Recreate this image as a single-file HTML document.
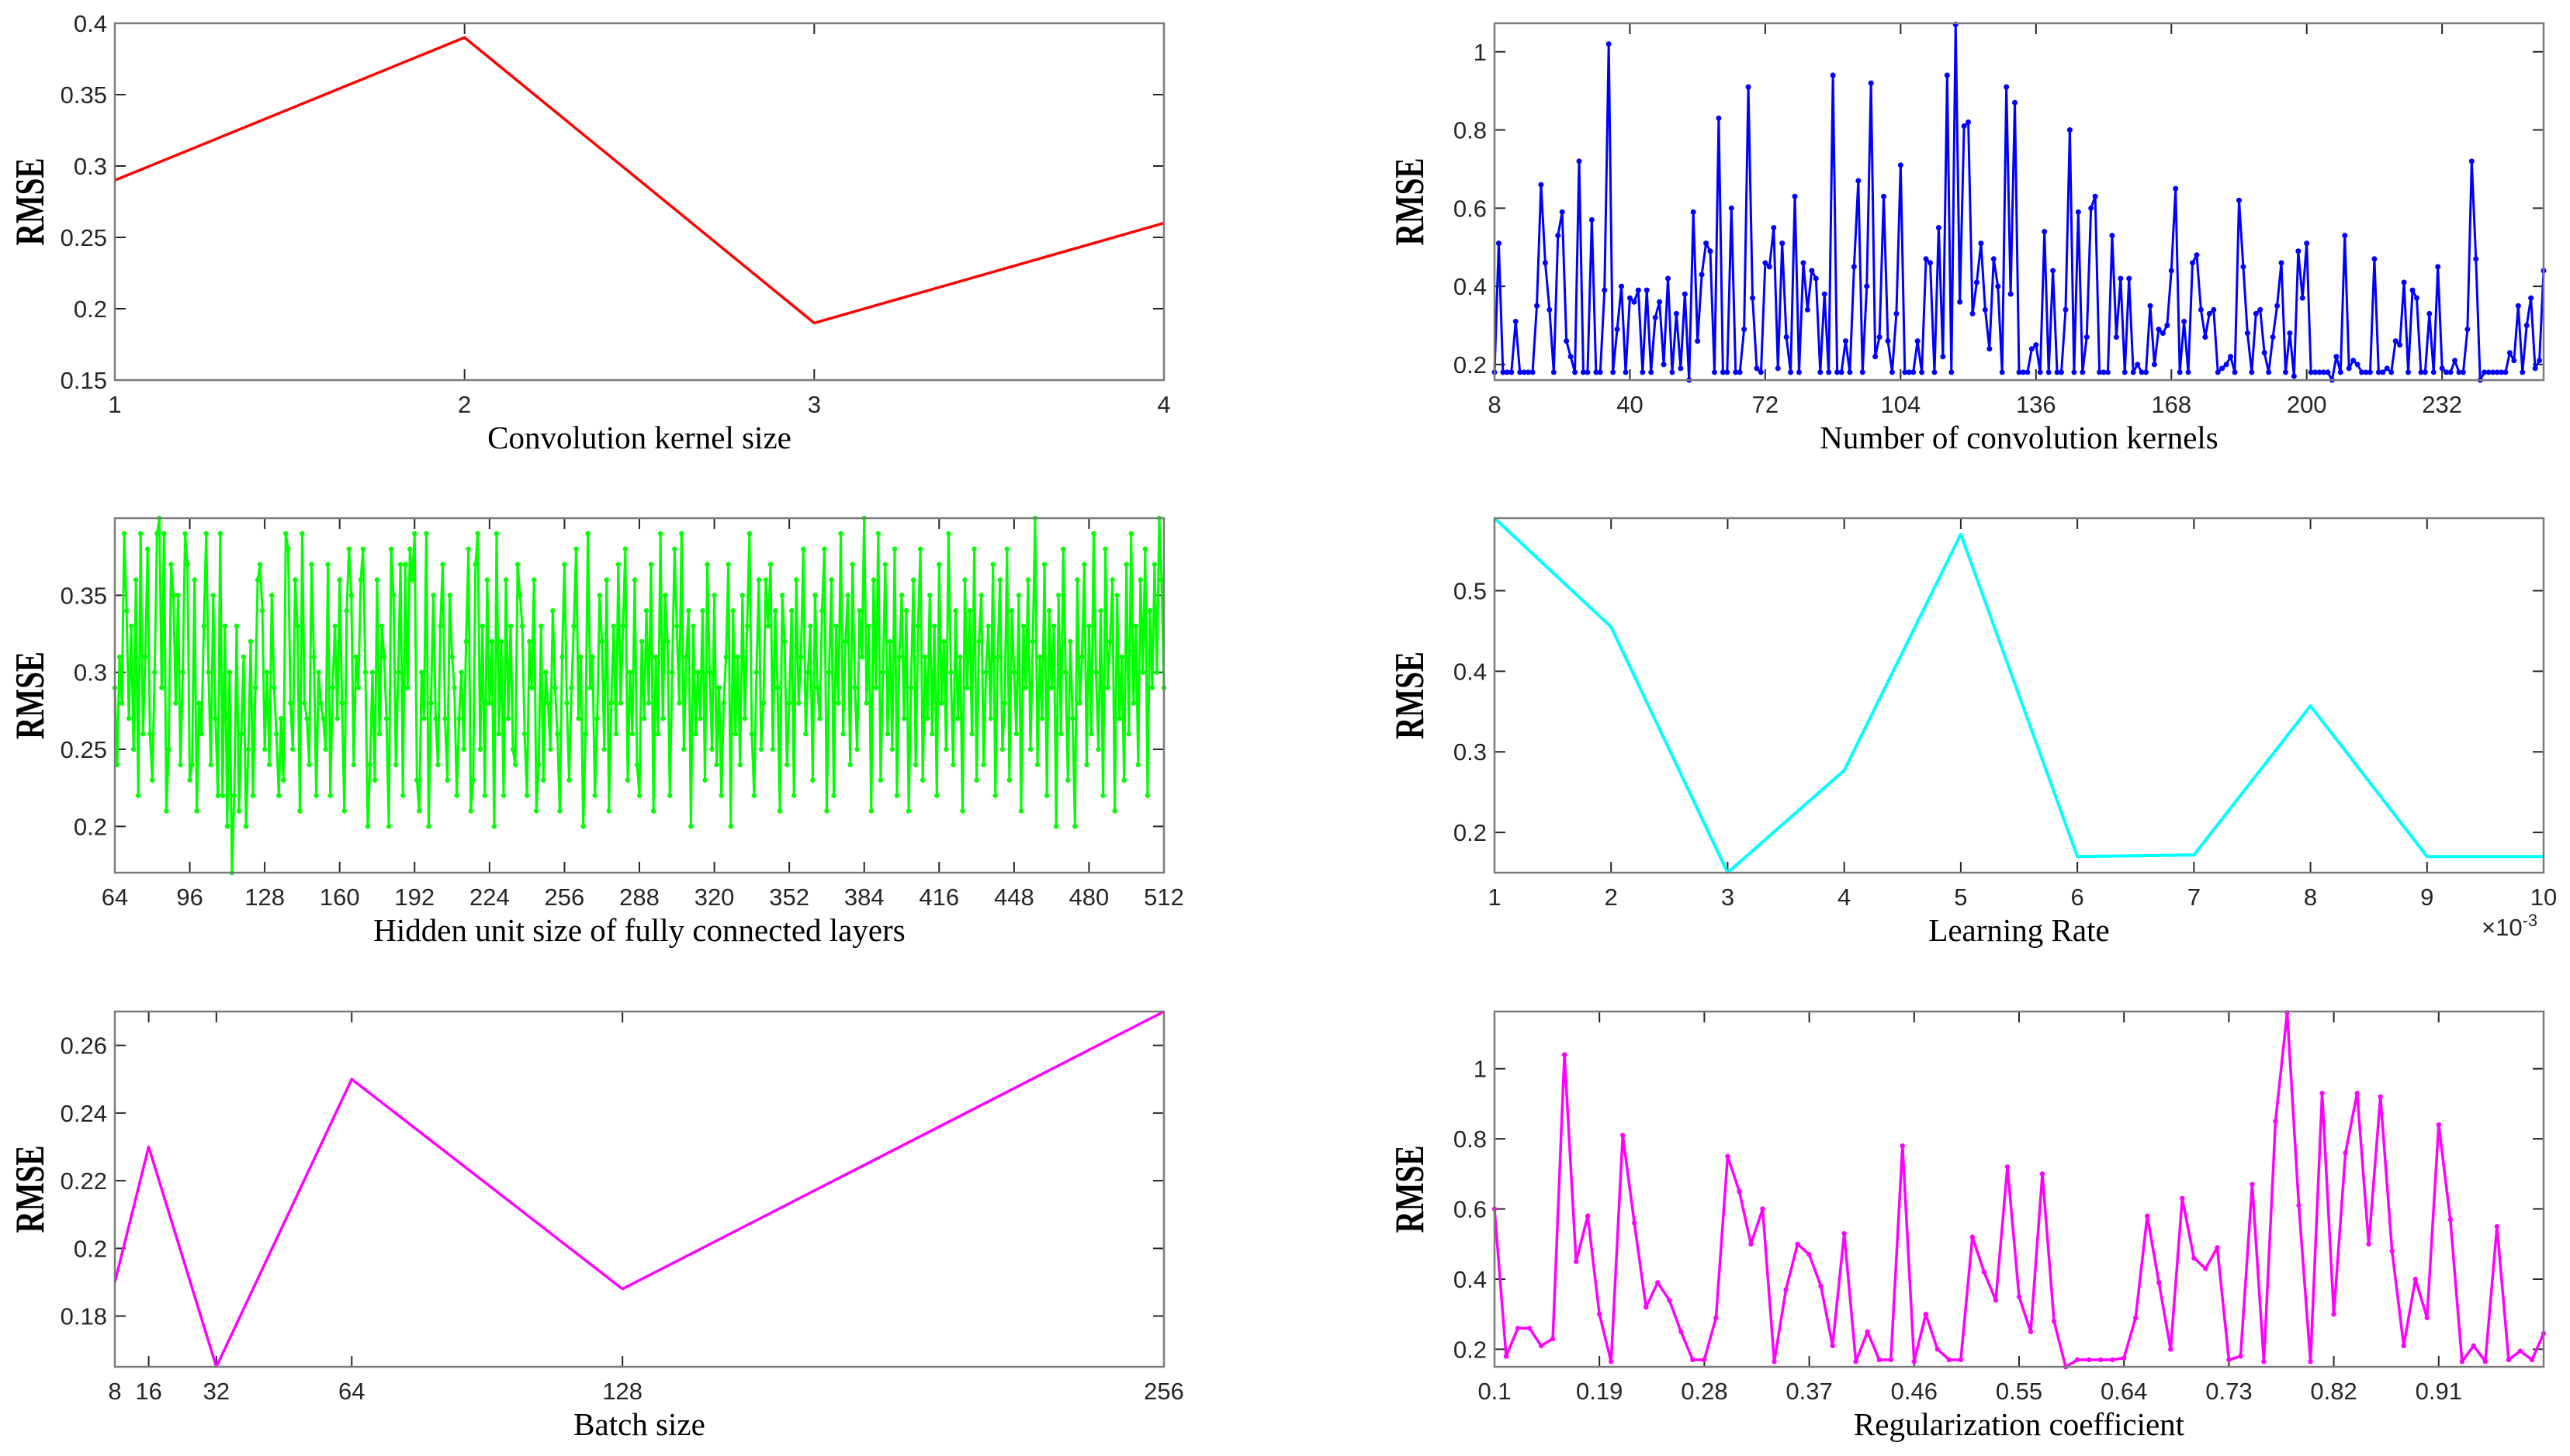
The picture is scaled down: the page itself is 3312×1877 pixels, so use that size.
<!DOCTYPE html>
<html><head><meta charset="utf-8"><style>
html,body{margin:0;padding:0;background:#fff;}
svg{display:block;}
.tk{font-family:"Liberation Sans",sans-serif;font-size:31px;fill:#262626;}
.al{font-family:"Liberation Serif",serif;font-size:41px;fill:#000;}
.yl{font-family:"Liberation Serif",serif;font-size:46px;font-weight:bold;fill:#000;}
</style></head><body>
<svg id="fig" width="3312" height="1877" xmlns="http://www.w3.org/2000/svg"></svg>
<script>
// ---- data ----
const kernelSizes=[1,2,3,4];
const kernelSizeRmse=[0.29,0.39,0.19,0.26];

const numKernelsRmse=[0.18,0.51,0.18,0.18,0.18,0.31,0.18,0.18,0.18,0.18,
0.35,0.66,0.46,0.34,0.18,0.53,0.59,0.26,0.22,0.18,
0.72,0.18,0.18,0.57,0.18,0.18,0.39,1.02,0.18,0.29,
0.40,0.18,0.37,0.36,0.39,0.18,0.39,0.18,0.32,0.36,
0.20,0.42,0.18,0.33,0.19,0.38,0.16,0.59,0.26,0.43,
0.51,0.49,0.18,0.83,0.18,0.18,0.60,0.18,0.18,0.29,
0.91,0.37,0.19,0.18,0.46,0.45,0.55,0.19,0.51,0.27,
0.18,0.63,0.18,0.46,0.34,0.44,0.42,0.18,0.38,0.18,
0.94,0.18,0.18,0.26,0.18,0.45,0.67,0.18,0.40,0.92,
0.22,0.27,0.63,0.26,0.18,0.33,0.71,0.18,0.18,0.18,
0.26,0.18,0.47,0.46,0.18,0.55,0.22,0.94,0.18,1.07,
0.36,0.81,0.82,0.33,0.41,0.51,0.34,0.24,0.47,0.40,
0.18,0.91,0.38,0.87,0.18,0.18,0.18,0.24,0.25,0.18,
0.54,0.18,0.44,0.18,0.18,0.34,0.80,0.18,0.59,0.18,
0.27,0.60,0.63,0.18,0.18,0.18,0.53,0.27,0.42,0.18,
0.42,0.18,0.20,0.18,0.18,0.35,0.20,0.29,0.28,0.30,
0.44,0.65,0.18,0.31,0.18,0.46,0.48,0.34,0.27,0.33,
0.34,0.18,0.19,0.20,0.22,0.18,0.62,0.45,0.28,0.18,
0.33,0.34,0.23,0.18,0.27,0.35,0.46,0.18,0.28,0.17,
0.49,0.37,0.51,0.18,0.18,0.18,0.18,0.18,0.16,0.22,
0.18,0.53,0.19,0.21,0.20,0.18,0.18,0.18,0.47,0.18,
0.18,0.19,0.18,0.26,0.25,0.41,0.18,0.39,0.37,0.18,
0.18,0.33,0.18,0.45,0.19,0.18,0.18,0.21,0.18,0.18,
0.29,0.72,0.47,0.16,0.18,0.18,0.18,0.18,0.18,0.18,
0.23,0.21,0.35,0.18,0.30,0.37,0.19,0.21,0.44];
const numKernelsStart=8;

const hiddenRmse=[.29,.24,.31,.28,.39,.34,.27,.33,.25,.36,
.22,.39,.26,.31,.38,.26,.23,.30,.39,.40,
.29,.39,.21,.25,.37,.35,.28,.35,.24,.30,
.39,.37,.23,.24,.36,.21,.28,.26,.33,.39,
.30,.24,.35,.27,.22,.39,.22,.33,.20,.30,
.17,.22,.33,.21,.26,.31,.20,.25,.32,.22,
.29,.36,.37,.34,.25,.30,.24,.35,.29,.26,
.22,.27,.23,.39,.38,.28,.25,.36,.33,.21,
.39,.28,.27,.24,.37,.31,.22,.30,.28,.27,
.25,.37,.22,.29,.33,.27,.36,.28,.21,.34,
.38,.35,.24,.31,.29,.36,.38,.30,.20,.24,
.30,.23,.36,.26,.33,.31,.27,.20,.38,.35,
.24,.30,.37,.22,.37,.29,.38,.36,.39,.23,
.21,.30,.27,.39,.20,.28,.35,.27,.24,.33,
.37,.27,.23,.35,.31,.29,.22,.27,.30,.25,
.32,.38,.21,.23,.37,.39,.25,.33,.22,.36,
.28,.32,.20,.39,.26,.32,.22,.36,.27,.33,
.25,.24,.37,.35,.33,.26,.22,.32,.29,.36,
.21,.24,.33,.23,.30,.28,.25,.34,.29,.26,
.21,.31,.37,.28,.23,.29,.33,.38,.27,.31,
.20,.26,.39,.29,.31,.22,.27,.35,.32,.25,
.36,.21,.28,.33,.26,.37,.28,.33,.38,.23,
.30,.26,.36,.24,.22,.32,.27,.34,.28,.37,
.21,.31,.26,.39,.27,.35,.32,.22,.30,.38,
.33,.28,.39,.25,.31,.34,.20,.33,.26,.30,
.27,.34,.23,.37,.30,.25,.35,.24,.29,.22,
.28,.31,.37,.20,.34,.26,.31,.24,.35,.27,
.33,.39,.26,.22,.30,.36,.25,.28,.36,.33,
.37,.25,.34,.29,.21,.35,.32,.24,.28,.34,
.22,.36,.28,.31,.38,.26,.30,.33,.23,.35,
.29,.27,.34,.38,.21,.30,.36,.22,.33,.28,
.39,.26,.32,.35,.24,.37,.29,.25,.34,.31,
.40,.28,.33,.21,.36,.29,.39,.23,.30,.37,
.26,.32,.25,.38,.22,.31,.35,.27,.34,.21,
.29,.36,.24,.33,.38,.23,.31,.27,.35,.26,
.33,.22,.37,.28,.32,.25,.39,.30,.24,.34,
.27,.31,.21,.36,.29,.34,.26,.38,.23,.32,
.35,.24,.30,.33,.27,.37,.22,.31,.36,.25,
.28,.38,.23,.34,.30,.26,.35,.21,.33,.29,
.36,.25,.32,.40,.24,.31,.27,.37,.22,.34,
.29,.33,.20,.35,.26,.38,.30,.23,.32,.27,
.20,.36,.28,.31,.37,.24,.33,.26,.39,.30,
.25,.34,.22,.38,.29,.32,.36,.21,.35,.27,
.31,.23,.37,.26,.39,.28,.33,.24,.36,.30,
.38,.22,.34,.29,.37,.30,.40,.36,.29];
const hiddenStart=64;

const learningRates=[1,2,3,4,5,6,7,8,9,10];
const learningRateRmse=[0.59,0.455,0.15,0.277,0.57,0.17,0.172,0.357,0.17,0.17];

const batchSizes=[8,16,32,64,128,256];
const batchRmse=[0.19,0.23,0.165,0.25,0.188,0.27];

const regRmse=[0.6,0.18,0.26,0.26,0.21,0.23,1.04,0.45,0.58,0.30,
0.165,0.81,0.56,0.32,0.39,0.34,0.25,0.17,0.17,0.29,
0.75,0.65,0.50,0.60,0.165,0.37,0.50,0.47,0.38,0.21,
0.53,0.165,0.25,0.17,0.17,0.78,0.165,0.30,0.20,0.17,
0.17,0.52,0.42,0.34,0.72,0.35,0.25,0.70,0.28,0.15,
0.17,0.17,0.17,0.17,0.175,0.29,0.58,0.39,0.20,0.63,
0.46,0.43,0.49,0.17,0.18,0.67,0.165,0.85,1.16,0.61,
0.165,0.93,0.30,0.76,0.93,0.50,0.92,0.48,0.21,0.40,
0.29,0.84,0.57,0.165,0.21,0.165,0.55,0.17,0.195,0.17,0.245];
const regStart=0.1, regStep=0.01;

const t1y=[0.15,0.2,0.25,0.3,0.35,0.4];
const t1yLab=["0.15","0.2","0.25","0.3","0.35","0.4"];
const t2x=[8,40,72,104,136,168,200,232];
const tY1=[0.2,0.4,0.6,0.8,1];
const tY1Lab=["0.2","0.4","0.6","0.8","1"];
const t3x=[64,96,128,160,192,224,256,288,320,352,384,416,448,480,512];
const t3y=[0.2,0.25,0.3,0.35];
const t3yLab=["0.2","0.25","0.3","0.35"];
const t4y=[0.2,0.3,0.4,0.5];
const t5y=[0.18,0.2,0.22,0.24,0.26];
const t6x=[0.1,0.19,0.28,0.37,0.46,0.55,0.64,0.73,0.82,0.91];

// ---- drawing ----
const NS="http://www.w3.org/2000/svg";
const svg=document.getElementById('fig');
function mk(tag,attrs,parent){const e=document.createElementNS(NS,tag);for(const k in attrs)e.setAttribute(k,attrs[k]);(parent||svg).appendChild(e);return e;}

function panel(p){
  const g=mk('g',{});
  
  
  const X=v=>p.x0+(v-p.xlim[0])/(p.xlim[1]-p.xlim[0])*(p.x1-p.x0);
  const Y=v=>p.y1-(v-p.ylim[0])/(p.ylim[1]-p.ylim[0])*(p.y1-p.y0);
  p.xt.forEach((v,i)=>{const x=X(v);
    const t=mk('path',{d:`M${x},${p.y1}V${p.y1-14}M${x},${p.y0}V${p.y0+14}`,stroke:'#262626','stroke-width':2},g);
    
    
    const l=mk('text',{x:x,y:p.y1+42,'text-anchor':'middle',class:'tk'},g);l.textContent=p.xtl?p.xtl[i]:String(v);
    
    
  });
  p.yt.forEach((v,i)=>{const y=Y(v);
    const t=mk('path',{d:`M${p.x0},${y}H${p.x0+14}M${p.x1},${y}H${p.x1-14}`,stroke:'#262626','stroke-width':2},g);
    
    
    const l=mk('text',{x:p.x0-10,y:y+11,'text-anchor':'end',class:'tk'},g);l.textContent=p.ytl[i];
    
    
  });
  const pts=p.xs.map((v,i)=>[X(v),Y(p.ys[i])]);
  const line=mk('polyline',{points:pts.map(q=>q.join(',')).join(' '),fill:'none',stroke:p.color,'stroke-width':p.lw||3.5,'stroke-linejoin':'round'},g);
  
  
  if(p.marker){pts.forEach(q=>{const c=mk('circle',{cx:q[0],cy:q[1],r:p.marker,fill:p.color},g);
    
    });}
  const fr=mk('rect',{x:p.x0,y:p.y0,width:p.x1-p.x0,height:p.y1-p.y0,fill:'none',stroke:'#7a7a7a','stroke-width':2.5},g);
  
  
  const al=mk('text',{x:(p.x0+p.x1)/2,y:p.y1+88,'text-anchor':'middle',class:'al'},g);al.textContent=p.xlabel;
  
  
  const cy=(p.y0+p.y1)/2, lx=p.x0-92;
  const yl=mk('text',{x:0,y:0,'text-anchor':'middle',class:'yl',transform:`translate(${lx},${cy}) rotate(-90) scale(0.85,1.15)`},g);yl.textContent='RMSE';
  
  
  return g;
}
const L0=148,L1=1500,R0=1926,R1=3278;
const r1=[30,490], r2=[668,1125], r3=[1304,1762];
const seq=(n,s,st)=>n.map((_,i)=>s+i*st);

panel({name:'kernel-size-chart',x0:L0,x1:L1,y0:r1[0],y1:r1[1],xlim:[1,4],ylim:[0.15,0.4],xt:kernelSizes,yt:t1y,ytl:t1yLab,xs:kernelSizes,ys:kernelSizeRmse,color:'#ff0000',xlabel:'Convolution kernel size'});
panel({name:'num-kernels-chart',x0:R0,x1:R1,y0:r1[0],y1:r1[1],xlim:[8,256],ylim:[0.16,1.073],xt:t2x,yt:tY1,ytl:tY1Lab,xs:seq(numKernelsRmse,numKernelsStart,1),ys:numKernelsRmse,color:'#0000ff',lw:3,marker:3.5,xlabel:'Number of convolution kernels'});
panel({name:'hidden-units-chart',x0:L0,x1:L1,y0:r2[0],y1:r2[1],xlim:[64,512],ylim:[0.17,0.40],xt:t3x,yt:t3y,ytl:t3yLab,xs:seq(hiddenRmse,hiddenStart,1),ys:hiddenRmse,color:'#00ff00',lw:3,marker:3.2,xlabel:'Hidden unit size of fully connected layers'});
panel({name:'learning-rate-chart',x0:R0,x1:R1,y0:r2[0],y1:r2[1],xlim:[1,10],ylim:[0.15,0.59],xt:learningRates,yt:t4y,ytl:["0.2","0.3","0.4","0.5"],xs:learningRates,ys:learningRateRmse,color:'#00ffff',lw:4,xlabel:'Learning Rate'});
panel({name:'batch-size-chart',x0:L0,x1:L1,y0:r3[0],y1:r3[1],xlim:[8,256],ylim:[0.165,0.27],xt:batchSizes,yt:t5y,ytl:["0.18","0.2","0.22","0.24","0.26"],xs:batchSizes,ys:batchRmse,color:'#ff00ff',xlabel:'Batch size'});
panel({name:'regularization-chart',x0:R0,x1:R1,y0:r3[0],y1:r3[1],xlim:[0.1,1.0],ylim:[0.15,1.163],xt:t6x,xtl:t6x.map(v=>String(v)),yt:tY1,ytl:tY1Lab,xs:seq(regRmse,regStart,regStep),ys:regRmse,color:'#ff00ff',lw:3.5,marker:3.2,xlabel:'Regularization coefficient'});

const ex=mk('text',{x:3198,y:1206,class:'tk'});


ex.innerHTML='×10<tspan dy="-12" font-size="22">-3</tspan>';
</script>
</body></html>
